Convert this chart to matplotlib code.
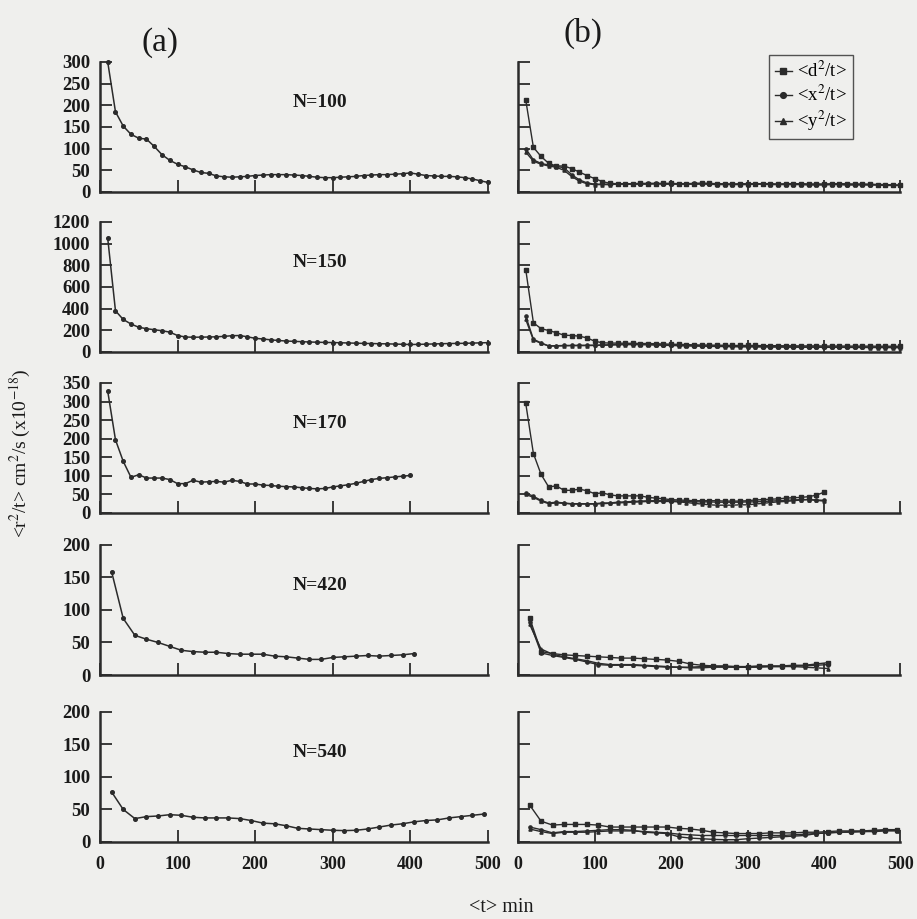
import matplotlib.pyplot as plt

plt.rcParams["font.family"] = ["Liberation Serif", "DejaVu Serif"]
plt.rcParams["mathtext.fontset"] = "stix"

BG = "#efefed"
INK = "#2b2b2b"

# ---- left column: single series, sampled every 10 or 15 min ----
t10_500 = list(range(10, 510, 10))
t10_400 = list(range(10, 410, 10))
t15_405 = list(range(15, 420, 15))
t15_495 = list(range(15, 510, 15))

n_labels = ["N=100", "N=150", "N=170", "N=420", "N=540"]
y_max = [300, 1200, 350, 200, 200]
y_step = [50, 200, 50, 50, 50]

a_n100 = [300, 185, 152, 133, 124, 122, 105, 86, 73, 64,
          58, 51, 45, 43, 37, 35, 34, 35, 36, 38,
          39, 40, 40, 40, 39, 38, 36, 34, 33, 33,
          34, 35, 36, 38, 39, 40, 40, 41, 42, 44,
          41, 38, 37, 36, 36, 35, 33, 30, 26, 22]
a_n150 = [1050, 380, 300, 258, 228, 215, 205, 196, 183, 152,
          138, 136, 137, 138, 140, 144, 150, 152, 140, 126,
          120, 112, 106, 101, 98, 95, 92, 90, 88, 87,
          85, 83, 81, 79, 78, 76, 75, 73, 71, 69,
          70, 72, 74, 76, 78, 79, 80, 82, 84, 86]
a_n170 = [328, 197, 139, 96, 103, 94, 94, 94, 90, 79,
          79, 88, 83, 84, 85, 83, 88, 85, 78, 78,
          75, 74, 72, 71, 70, 68, 66, 65, 66, 70,
          73, 76, 80, 85, 90, 93, 95, 97, 99, 101]
a_n420 = [159, 87, 61, 55, 50, 44, 38, 36, 35, 35,
          33, 32, 32, 32, 29, 28, 26, 24, 24, 27,
          28, 29, 30, 29, 30, 31, 33]
a_n540 = [77, 50, 36, 39, 40, 42, 41, 38, 37, 37,
          37, 36, 33, 29, 28, 25, 21, 20, 19, 18,
          17.5, 18, 20, 23, 26, 28, 31, 33, 34, 37,
          39, 41, 43]

left_t = [t10_500, t10_500, t10_400, t15_405, t15_495]
left_y = [a_n100, a_n150, a_n170, a_n420, a_n540]

# ---- right column: <d2/t>, <x2/t>, <y2/t> ----
b1_d2 = [212, 103, 82, 66, 60, 60, 54, 46, 38, 31,
         24, 20, 19, 19, 19, 20, 19, 19, 20, 20,
         19, 19, 19, 20, 20, 19, 18, 18, 19, 19,
         19, 19, 18, 18, 19, 19, 19, 18, 18, 18,
         19, 19, 19, 18, 18, 18, 17, 17, 16, 15]
b1_x2 = [100, 74, 66, 62, 59, 56, 40, 28, 21, 18,
         18, 18, 19, 19, 19, 19, 20, 20, 19, 19,
         19, 19, 20, 20, 19, 19, 19, 18, 18, 18,
         19, 19, 19, 18, 18, 19, 19, 18, 18, 18,
         18, 18, 17, 18, 18, 17, 17, 17, 16, 16]
b1_y2 = [92, 71, 64, 60, 57, 50, 36, 25, 19, 17,
         17, 17, 18, 18, 18, 18, 18, 19, 18, 18,
         18, 18, 18, 18, 18, 17, 17, 17, 17, 17,
         18, 18, 17, 17, 17, 17, 17, 16, 16, 16,
         17, 17, 16, 16, 16, 16, 16, 15, 15, 15]

b2_d2 = [760, 270, 215, 198, 178, 155, 152, 146, 130, 100,
         85, 82, 82, 80, 80, 78, 78, 76, 74, 72,
         70, 68, 66, 64, 64, 62, 62, 60, 60, 60,
         60, 58, 58, 58, 57, 57, 56, 56, 56, 55,
         55, 55, 54, 54, 54, 54, 53, 53, 53, 52]
b2_x2 = [330, 118, 84, 56, 58, 60, 61, 62, 62, 63,
         64, 66, 70, 72, 72, 70, 70, 68, 66, 64,
         62, 60, 58, 56, 55, 54, 53, 52, 51, 50,
         50, 49, 48, 48, 47, 47, 46, 46, 46, 45,
         45, 45, 44, 44, 44, 44, 43, 43, 43, 42]
b2_y2 = [300, 110, 80, 55, 55, 57, 58, 58, 59, 60,
         62, 64, 66, 68, 68, 67, 66, 64, 62, 60,
         58, 56, 55, 54, 52, 51, 50, 49, 48, 48,
         47, 47, 46, 46, 45, 45, 44, 44, 44, 43,
         43, 43, 42, 42, 42, 41, 41, 41, 40, 40]

b3_d2 = [295, 160, 104, 70, 73, 61, 61, 64, 60, 52,
         54, 49, 46, 46, 46, 46, 42, 40, 38, 36,
         35, 34, 33, 33, 33, 33, 32, 32, 32, 33,
         35, 36, 37, 38, 40, 41, 42, 44, 48, 56]
b3_x2 = [54, 45, 34, 27, 29, 27, 25, 25, 25, 25,
         27, 27, 29, 30, 31, 32, 33, 33, 33, 33,
         32, 31, 30, 30, 30, 29, 29, 29, 29, 30,
         30, 31, 32, 33, 34, 35, 36, 36, 35, 34]
b3_y2 = [50, 42, 32, 25, 27, 26, 24, 24, 24, 24,
         25, 26, 27, 28, 29, 30, 31, 31, 31, 31,
         30, 28, 26, 24, 22, 21, 21, 21, 22, 22,
         24, 26, 28, 30, 31, 33, 35, 36, 34, 32]

b4_d2 = [88, 36, 33, 31, 30, 29, 28, 27, 26, 26,
         25, 24, 23, 21, 17, 15, 14, 14, 13, 13,
         14, 14, 14, 15, 15, 17, 19]
b4_x2 = [82, 34, 30, 27, 24, 20, 16, 15, 15, 15,
         14, 13, 12, 12, 12, 13, 13, 13, 12, 12,
         13, 13, 13, 14, 14, 15, 16]
b4_y2 = [78, 40, 32, 28, 25, 22, 18, 16, 16, 16,
         15, 14, 13, 12, 11, 11, 12, 12, 12, 12,
         12, 13, 13, 13, 12, 11, 10]

b5_d2 = [57, 32, 26, 27, 27, 27, 26, 23, 23, 23,
         23, 23, 23, 21, 20, 18, 15, 14, 13, 13,
         13, 14, 14, 14, 15, 15, 16, 17, 17, 17,
         18, 19, 19]
b5_x2 = [23, 19, 14, 16, 16, 17, 18, 19, 19, 18,
         15, 14, 13, 8, 6, 5, 4, 3.5, 3.5, 5,
         6, 7, 8, 9, 10, 13, 14, 15, 16, 16,
         17, 18, 18]
b5_y2 = [20, 16, 13, 15, 15, 15, 16, 17, 17, 17,
         16, 15, 14, 12, 11, 10, 10, 10, 10, 10,
         10, 10, 10, 11, 12, 13, 14, 15, 15, 16,
         16, 17, 17]

right_t = [t10_500, t10_500, t10_400, t15_405, t15_495]
right_y = [(b1_d2, b1_x2, b1_y2), (b2_d2, b2_x2, b2_y2), (b3_d2, b3_x2, b3_y2),
           (b4_d2, b4_x2, b4_y2), (b5_d2, b5_x2, b5_y2)]
series_labels = [r"<d$^2$/t>", r"<x$^2$/t>", r"<y$^2$/t>"]
series_markers = ["s", "o", "^"]

x_ticks = [0, 100, 200, 300, 400, 500]

fig = plt.figure(figsize=(9.17, 9.19), dpi=100, facecolor=BG)

row_bottoms = [0.7911, 0.6170, 0.4418, 0.2655, 0.0838]
row_h = 0.1415


def style_axes(ax, ymax, ystep, show_ylabels, show_xlabels):
    ax.set_facecolor(BG)
    ax.set_xlim(0, 500)
    ax.set_ylim(0, ymax)
    for s in ("top", "right"):
        ax.spines[s].set_visible(False)
    for s in ("left", "bottom"):
        ax.spines[s].set_linewidth(1.8)
        ax.spines[s].set_color(INK)
    ax.set_xticks(x_ticks)
    ax.set_yticks(list(range(0, ymax + 1, ystep)))
    ax.tick_params(axis="both", direction="in", length=8.5, width=1.3, color=INK,
                   labelsize=13.5, labelcolor="#1a1a1a")
    ax.tick_params(axis="x", labelsize=13, pad=10)
    ax.tick_params(axis="y", pad=7)
    for lbl in ax.get_xticklabels() + ax.get_yticklabels():
        lbl.set_fontweight("bold")
    if not show_ylabels:
        ax.set_yticklabels([])
    if not show_xlabels:
        ax.set_xticklabels([])


for i in range(5):
    axl = fig.add_axes([0.109, row_bottoms[i], 0.423, row_h])
    style_axes(axl, y_max[i], y_step[i], True, i == 4)
    axl.plot(left_t[i], left_y[i], color=INK, lw=1.1, marker="o", ms=2.6,
             clip_on=False)
    axl.text(0.567, 0.69, n_labels[i], transform=axl.transAxes, ha="center",
             va="center", fontsize=14, fontweight="bold", color="#1a1a1a")

    axr = fig.add_axes([0.565, row_bottoms[i], 0.417, row_h])
    style_axes(axr, y_max[i], y_step[i], False, i == 4)
    for vals, lab, mk in zip(right_y[i], series_labels, series_markers):
        axr.plot(right_t[i], vals, color=INK, lw=1.0, marker=mk, ms=2.3,
                 label=lab, clip_on=False)
    if i == 0:
        leg = axr.legend(loc="upper right", bbox_to_anchor=(0.875, 1.05),
                         fontsize=13.5, frameon=True, fancybox=False,
                         handlelength=0.9, handletextpad=0.3, markerscale=1.8,
                         borderpad=0.3, labelspacing=0.2, borderaxespad=0)
        leg.get_frame().set_edgecolor(INK)
        leg.get_frame().set_linewidth(1.0)
        leg.get_frame().set_facecolor(BG)

fig.text(0.174, 0.954, "(a)", fontsize=24, ha="center", va="center", color="#1a1a1a")
fig.text(0.636, 0.964, "(b)", fontsize=24, ha="center", va="center", color="#1a1a1a")
fig.text(0.022, 0.507, r"<r$^2$/t> cm$^2$/s (x10$^{-18}$)", rotation=90,
         fontsize=14, ha="center", va="center", color="#1a1a1a")
fig.text(0.547, 0.012, "<t> min", fontsize=14.5, ha="center", va="center", color="#1a1a1a")

fig.savefig("out.png", dpi=100, facecolor=BG)
